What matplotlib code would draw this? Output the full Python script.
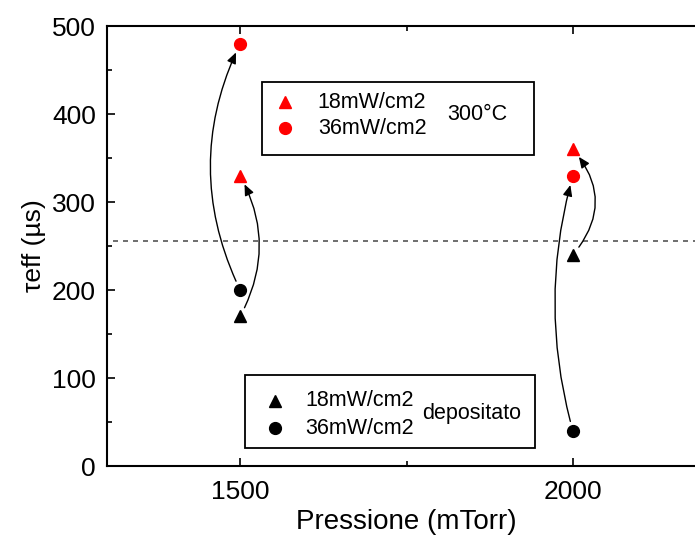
import matplotlib
matplotlib.use("Agg")
import matplotlib.pyplot as plt
from matplotlib.patches import Rectangle
from matplotlib.ticker import MultipleLocator

plt.rcParams['font.family'] = ['Liberation Sans', 'DejaVu Sans']

# pressure (mTorr)
pressione = [1500, 2000]
# tau_eff (us) as deposited
dep_18 = [170, 240]
dep_36 = [200, 40]
# tau_eff (us) after 300 C
ann_18 = [330, 360]
ann_36 = [480, 330]
soglia = 256

fig = plt.figure(figsize=(6.95, 5.37), dpi=100)
ax = fig.add_axes([107 / 695, 71 / 537, 599 / 695, 440 / 537])

ax.axhline(soglia, xmin=0.01, color='#555555', lw=1.2, dashes=(3, 3))

ax.plot(pressione, dep_18, '^', color='black', ms=9, zorder=3)
ax.plot(pressione, dep_36, 'o', color='black', ms=8.5, zorder=3)
ax.plot(pressione, ann_18, '^', color='red', ms=9, zorder=3)
ax.plot(pressione, ann_36, 'o', color='red', ms=8.5, zorder=3)

# arrows from as-deposited to annealed
rads = {(0, '36'): -0.24, (0, '18'): 0.27, (1, '36'): -0.14, (1, '18'): 0.42}
for i, x in enumerate(pressione):
    for key, y0, y1 in (('36', dep_36[i], ann_36[i]), ('18', dep_18[i], ann_18[i])):
        ax.annotate('', xy=(x, y1), xytext=(x, y0),
                    arrowprops=dict(arrowstyle='-|>,head_length=0.65,head_width=0.28',
                                    color='black', lw=1.0, shrinkA=7, shrinkB=7,
                                    connectionstyle='arc3,rad=%s' % rads[(i, key)]))

ax.set_xlim(1300, 2200)
ax.set_ylim(0, 500)
ax.xaxis.set_major_locator(MultipleLocator(500))
ax.xaxis.set_minor_locator(MultipleLocator(250))
ax.yaxis.set_major_locator(MultipleLocator(100))
ax.yaxis.set_minor_locator(MultipleLocator(50))
ax.tick_params(which='both', direction='in', top=True, right=False, width=1.2)
ax.tick_params(which='major', length=6, labelsize=19)
ax.tick_params(axis='x', which='major', pad=10)
ax.tick_params(axis='y', which='major', pad=8)
ax.tick_params(which='minor', length=3.5)
for s in ax.spines.values():
    s.set_linewidth(1.5)
ax.spines['right'].set_visible(False)

ax.set_xlabel('Pressione (mTorr)', fontsize=20, labelpad=4)
ax.set_ylabel('τeff (µs)', fontsize=19, labelpad=4)

# legend boxes
boxes = [
    (0.259, 0.707, 0.454, 0.166, 'red', 0.297, 0.827, 0.768, 0.352, '300°C', 0.619, 0.798),
    (0.230, 0.041, 0.485, 0.166, 'black', 0.280, 0.148, 0.086, 0.331, 'depositato', 0.608, 0.120),
]
for bx, by, bw, bh, col, mx, my1, my2, tx, lab, lx, ly in boxes:
    ax.add_patch(Rectangle((bx, by), bw, bh, transform=ax.transAxes, fill=False,
                           lw=1.3, ec='black', zorder=4))
    ax.plot([mx], [my1], '^', color=col, ms=9, transform=ax.transAxes, clip_on=False)
    ax.plot([mx], [my2], 'o', color=col, ms=8.5, transform=ax.transAxes, clip_on=False)
    ax.text(tx, my1, '18mW/cm2', transform=ax.transAxes, fontsize=15.5, va='center')
    ax.text(tx, my2, '36mW/cm2', transform=ax.transAxes, fontsize=15.5, va='center')
    ax.text(lx, ly, lab, transform=ax.transAxes, fontsize=15.5, va='center', ha='center')

fig.savefig('out.png', dpi=100)
